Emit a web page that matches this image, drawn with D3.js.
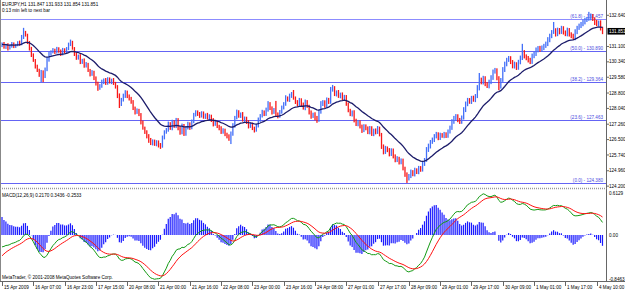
<!DOCTYPE html>
<html>
<head>
<meta charset="utf-8">
<script src="https://cdn.jsdelivr.net/npm/d3@7"></script>
<style>
body { margin: 0; background: #fff; }
svg { display: block; font-family: "Liberation Sans", Arial, sans-serif; }
text { font-size: 4.6px; }
</style>
</head>
<body>
<svg id="chart" width="625" height="291"></svg>
<script>
// EURJPY H1 closes, one per bar
var closes = [
  131.22,131.07,131.17,131.02,131.12,131.22,131.12,131.17,131.27,131.22,
  131.52,131.77,131.67,131.32,131.02,
  130.68,130.43,130.13,129.94,129.74,
  129.84,129.64,129.94,
  130.43,130.73,130.83,130.93,
  130.83,130.98,130.88,130.73,130.93,130.83,130.98,
  131.17,131.32,131.02,
  130.73,130.53,130.63,130.33,130.43,
  130.13,130.23,129.94,129.74,129.84,
  129.54,129.29,129.05,129.14,129.34,
  129.44,129.29,129.49,129.34,129.44,129.29,129.14,
  128.70,128.26,128.46,
  128.65,128.85,128.65,128.55,128.36,
  128.06,127.86,127.96,127.76,
  127.37,127.08,126.88,126.68,126.48,
  126.33,126.43,126.28,126.38,126.23,126.18,
  126.58,126.88,126.97,
  127.27,127.08,127.37,127.17,127.47,127.08,
  126.88,127.17,126.78,127.08,127.27,127.08,
  127.37,127.72,127.86,127.76,127.67,
  127.81,127.62,127.72,127.57,127.67,
  127.47,127.27,127.37,127.17,127.08,
  126.88,126.97,126.78,126.68,126.58,
  126.78,127.17,127.57,
  127.86,127.67,127.76,127.47,127.57,
  127.37,127.17,127.27,127.08,126.97,
  127.17,127.47,127.67,127.86,127.76,
  127.96,128.26,128.06,
  127.86,127.96,127.76,127.67,127.86,
  128.06,128.26,128.55,128.46,128.65,
  128.75,128.55,128.36,128.26,128.46,
  128.26,128.06,128.36,128.16,127.86,
  127.67,127.76,127.57,127.47,127.86,
  128.26,128.36,128.16,128.46,128.36,
  128.95,129.05,128.75,128.85,128.65,
  128.75,128.55,128.65,128.26,
  127.96,127.76,127.86,127.47,127.27,
  127.37,127.17,126.97,127.17,127.08,
  126.88,127.08,126.78,126.97,126.88,
  127.08,126.78,126.18,
  125.89,126.09,125.99,125.79,125.99,
  125.69,125.49,125.59,125.39,125.49,
  125.10,124.80,124.60,124.70,124.90,
  124.80,125.00,124.90,125.10,125.00,
  125.30,125.49,125.99,126.18,126.38,
  126.48,126.68,126.78,126.58,126.73,
  126.68,126.78,126.68,126.88,127.08,
  127.37,127.57,127.67,127.47,127.37,
  127.57,127.96,128.26,
  128.46,128.36,128.55,128.46,128.65,
  129.05,129.44,129.34,129.54,129.24,
  129.14,129.34,129.54,129.84,129.94,
  129.54,129.14,129.44,
  129.94,130.23,130.43,130.53,130.33,
  130.13,130.23,130.04,130.33,130.53,
  130.83,130.63,130.53,130.43,130.33,
  130.63,130.73,130.93,131.03,130.93,
  131.03,131.12,131.22,131.42,131.61,
  131.81,131.91,131.71,131.91,131.81,
  132.01,131.81,131.71,131.91,131.71,
  131.61,131.52,131.81,132.01,132.11,
  132.21,132.31,132.41,132.46,132.51,
  132.61,132.46,132.31,132.21,132.31,132.01,131.85
];
var firstOpen = 131.17;

// wick above / below the body, in hundredths of a yen
var wickUp = [
  8,10,6,9,7,10,8,6,9,12, 15,25,10,6,5, 6,8,5,7,6,
  10,8,12,15,10,8,9,6,10,8, 7,10,8,9,12,12,6,5,8,7,
  9,6,8,10,6,5,9,6,8,7, 10,12,8,10,9,8,7,10,6,5,
  8,10,12,9,7,8,6,9,7,8, 6,5,7,6,8,9,10,8,7,9,
  8,10,12,8,10,12,9,11,8,10, 9,8,12,10,9,11,8,12,10,9,
  8,10,9,8,7,10,8,6,9,8, 7,6,8,9,7,6,8,12,14,10,
  12,9,8,10,7,6,9,8,7,6, 10,12,9,11,8,12,14,9,8,10,
  45,8,10,12,9,14,8,12,10,20, 8,9,10,8,7,12,9,6,8,7,
  9,10,12,14,9,8,12,10,15,15, 9,8,10,7,8,6,5,7,6,8,
  9,6,10,8,7,9,8,7,9,8, 7,8,9,6,5,8,10,7,9,8,
  7,8,9,6,8,7,6,8,10,12, 9,11,8,10,9,12,10,14,12,10,
  12,9,10,8,11,9,10,8,12,11, 14,10,9,8,10,12,14,12,10,9,
  11,12,10,14,35,12,11,9,10,12, 14,12,10,8,9,10,14,12,11,10,
  9,10,12,9,11,12,40,9,8,10, 11,12,10,12,9,10,12,11,12,14,
  12,10,40,9,12,10,11,9,8,12, 10,9,12,14,11,12,10,12,11,10,
  30,12,9,8,10,7,8,6
];
var wickDown = [
  10,8,9,12,7,8,10,9,6,8, 6,5,8,10,12, 10,9,12,10,14,
  40,30,10,6,8,9,7,10,8,9, 10,7,8,9,6,5,8,10,9,8,
  10,9,8,7,10,12,9,10,12,14, 9,8,10,9,8,7,10,9,12,15,
  20,10,8,9,10,12,9,10,12,9, 10,12,9,10,12,14,10,12,9,11,
  12,14,8,7,9,8,10,12,9,10, 12,14,12,10,9,8,10,7,6,8,
  9,10,8,9,10,8,9,10,12,9, 10,12,10,9,11,12,14,30,9,8,
  7,9,10,8,9,10,12,9,11,12, 8,7,9,8,10,9,8,10,12,9,
  10,12,9,8,7,9,8,10,9,8, 10,12,9,10,8,11,9,12,14,10,
  12,14,9,8,10,9,8,10,9,8, 10,12,9,11,10,12,9,11,10,12,
  12,10,11,12,14,10,12,11,12,10, 11,12,10,12,14,12,10,11,12,10,
  12,11,10,12,11,12,14,24,12,10, 11,12,10,11,9,8,10,9,10,12,
  9,10,12,11,10,9,11,10,9,8, 10,9,12,11,10,9,8,10,11,9,
  10,9,11,10,12,11,12,10,9,11, 10,9,8,11,20,12,9,10,11,9,
  10,11,12,10,9,11,10,12,11,12, 10,9,11,10,12,9,10,11,9,10,
  11,10,9,12,10,11,9,12,10,11, 12,10,9,11,10,9,10,11,12,10,
  9,12,10,15,11,10,12,14
];

var timeLabels = ["15 Apr 2009","16 Apr 07:00","16 Apr 23:00","17 Apr 15:00","20 Apr 08:00",
  "21 Apr 00:00","21 Apr 16:00","22 Apr 08:00","23 Apr 00:00","23 Apr 16:00","24 Apr 08:00",
  "27 Apr 01:00","27 Apr 17:00","28 Apr 09:00","29 Apr 01:00","29 Apr 17:00","30 Apr 09:00",
  "1 May 01:00","1 May 17:00","4 May 10:00"];
var priceTicks = [132.640,131.100,130.340,129.580,128.800,128.040,127.260,126.500,125.740,124.960,124.200];
var fibNames = ["(0.0)","(23.6)","(38.2)","(50.0)","(61.8)"];
var fibPrices = [124.380,127.463,129.364,130.890,132.457];
var lastPrice = 131.851;
var macdShown = [0.2170, 0.3436, -0.2533];
var macdRange = [-0.8463, 0.6129];
// indicator state just before the first bar
var seedMa = 131.20, seedFast = 131.15, seedSlow = 131.39, seedSignal = -0.42;

var svg = d3.select('#chart');
var W = 625, axisX = 606.5;

var opens = closes.map(function(c, i) { return i === 0 ? firstOpen : closes[i-1]; });
var bars = closes.map(function(c, i) {
  var o = opens[i];
  return {i: i, o: o, c: c,
    h: Math.max(o, c) + wickUp[i]/100,
    l: Math.min(o, c) - wickDown[i]/100};
});

function ema(vals, n, seed) {
  var k = 2/(n+1), prev = seed;
  return vals.map(function(v) { prev = prev + k*(v - prev); return prev; });
}
var ma = ema(closes, 21, seedMa);
var fast = ema(closes, 12, seedFast);
var slow = ema(closes, 26, seedSlow);
var macd = fast.map(function(f, i) { return f - slow[i]; });
var signal = ema(macd, 9, seedSignal);
var hist = macd.map(function(m, i) { return 2*(m - signal[i]); });

var x = d3.scaleLinear().domain([0, closes.length-1]).range([2, 2 + (closes.length-1)*1.956]);
var y = d3.scaleLinear().domain([124.380, 132.457]).range([182.5, 19]);
var ym = d3.scaleLinear().domain(macdRange).range([281.5, 201.3]);

// fibonacci levels
var fib = svg.append('g');
fibPrices.forEach(function(p, k) {
  fib.append('line').attr('x1', 0).attr('x2', axisX)
    .attr('y1', Math.round(y(p)) + 0.5).attr('y2', Math.round(y(p)) + 0.5)
    .attr('stroke', k === 4 ? '#8c8cff' : '#6464f4').attr('stroke-width', 1);
  fib.append('text').attr('x', 603).attr('y', Math.round(y(p)) - 0.8)
    .attr('text-anchor', 'end').attr('fill', '#4a4ae0')
    .text(fibNames[k] + ' - ' + p.toFixed(3));
});

// price bars
svg.append('g').selectAll('rect').data(bars).enter().append('rect')
  .attr('x', function(d) { return x(d.i) - 0.6; })
  .attr('width', 1.3)
  .attr('y', function(d) { return y(d.h); })
  .attr('height', function(d) { return Math.max(1, y(d.l) - y(d.h)); })
  .attr('fill', function(d) { return d.c >= d.o ? '#4470f8' : '#f81818'; });

// moving average
svg.append('path').datum(ma)
  .attr('d', d3.line().x(function(d, i) { return x(i); }).y(function(d) { return y(d); }))
  .attr('fill', 'none').attr('stroke', '#1c1c6a').attr('stroke-width', 1.3);

// macd histogram and lines
var zero = ym(0);
svg.append('g').selectAll('line').data(hist).enter().append('line')
  .attr('x1', function(d, i) { return x(i); }).attr('x2', function(d, i) { return x(i); })
  .attr('y1', zero).attr('y2', function(d) { return ym(d); })
  .attr('stroke', '#1a1aff').attr('stroke-width', 1.2);
var mline = d3.line().x(function(d, i) { return x(i); }).y(function(d) { return ym(d); });
svg.append('path').datum(macd).attr('d', mline)
  .attr('fill', 'none').attr('stroke', '#139a13').attr('stroke-width', 1);
svg.append('path').datum(signal).attr('d', mline)
  .attr('fill', 'none').attr('stroke', '#ff1010').attr('stroke-width', 1);

// frame
svg.append('line').attr('x1', axisX).attr('x2', axisX).attr('y1', 0).attr('y2', 282)
  .attr('stroke', '#666');
svg.append('line').attr('x1', 0.5).attr('x2', 0.5).attr('y1', 0).attr('y2', 282)
  .attr('stroke', '#888');
svg.append('line').attr('x1', 0).attr('x2', axisX).attr('y1', 188.5).attr('y2', 188.5)
  .attr('stroke', '#999').attr('stroke-width', 1.5).attr('stroke-dasharray', '1,1');
svg.append('line').attr('x1', 0).attr('x2', W).attr('y1', 281.5).attr('y2', 281.5)
  .attr('stroke', '#666');

// right price axis
var yAxis = svg.append('g');
priceTicks.forEach(function(p) {
  yAxis.append('line').attr('x1', axisX).attr('x2', axisX + 2.5)
    .attr('y1', y(p)).attr('y2', y(p)).attr('stroke', '#666');
  yAxis.append('text').attr('x', 609).attr('y', y(p) + 1.6).attr('fill', '#000')
    .text(p.toFixed(3));
});
svg.append('rect').attr('x', axisX + 1).attr('y', y(lastPrice) - 3.3)
  .attr('width', W - axisX).attr('height', 6.6).attr('fill', '#000');
svg.append('text').attr('x', 609).attr('y', y(lastPrice) + 1.6).attr('fill', '#fff')
  .text(lastPrice.toFixed(3));

// macd axis labels
svg.append('text').attr('x', 609).attr('y', 194.5).text(macdRange[1].toFixed(4));
svg.append('text').attr('x', 609).attr('y', zero + 1.6).text('0.00');
svg.append('text').attr('x', 609).attr('y', 280.5).text(macdRange[0].toFixed(4));

// time axis
var tx = svg.append('g');
timeLabels.forEach(function(t, k) {
  var px = Math.round(x(k*16)) + 0.5;
  tx.append('line').attr('x1', px).attr('x2', px).attr('y1', 282).attr('y2', 286)
    .attr('stroke', '#666');
  tx.append('text').attr('x', px + 1.5).attr('y', 288.5).text(t);
});

// captions
svg.append('text').attr('x', 2).attr('y', 6).text('EURJPY,H1  131.847 131.933 131.854 131.851');
svg.append('text').attr('x', 2).attr('y', 12).text('0:13 min left to next bar');
svg.append('text').attr('x', 2).attr('y', 196.5)
  .text('MACD(12,26,9) ' + macdShown.map(function(v) { return v.toFixed(4); }).join(' '));
svg.append('text').attr('x', 2).attr('y', 279).text('MetaTrader, \u00a9 2001-2008 MetaQuotes Software Corp.');
</script>
</body>
</html>
